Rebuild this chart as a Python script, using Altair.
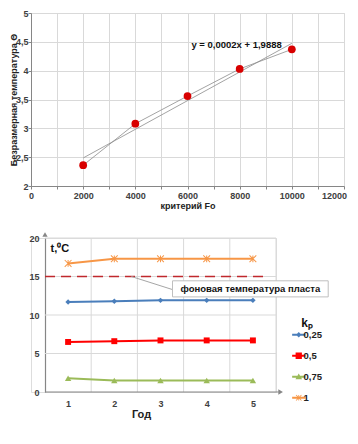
import altair as alt
import pandas as pd

# ---------------- top chart data ----------------
fo_values = [2000, 4000, 6000, 8000, 10000]
theta_values = [2.36, 3.08, 3.56, 4.03, 4.37]
fo_ticks = list(range(0, 12001, 1000))
theta_ticks = [2, 2.5, 3, 3.5, 4, 4.5, 5]
equation = "y = 0,0002x + 1,9888"
equation_pos = [6150, 4.45]

# ---------------- bottom chart data ----------------
years = [1, 2, 3, 4, 5]
kp_names = ["0,25", "0,5", "0,75", "1"]
t_kp025 = [11.7, 11.8, 11.9, 11.9, 11.9]
t_kp05 = [6.5, 6.6, 6.7, 6.7, 6.7]
t_kp075 = [1.8, 1.5, 1.5, 1.5, 1.5]
t_kp1 = [16.7, 17.3, 17.3, 17.3, 17.3]
t_ticks = [0, 5, 10, 15, 20]
t_grid = [5, 10, 15, 20]
year_edges = [1.5, 2.5, 3.5, 4.5, 5.5]
background_temp = 15
background_end = 5.33
background_label = "фоновая  температура  пласта"
label_box = [3.26, 6.63, 14.44, 12.35]
leader = [2.37, 15.0, 3.26, 13.3]
unit_label = "t,\u2070C"
unit_pos = [0.62, 18.6]
series_colors = ["#4a7ebb", "#ff0000", "#9bbb59", "#f79646"]

ASTER = ("M-0.15,-1H0.15V1H-0.15Z"
         "M-0.9,-1.1L1.1,0.9L0.9,1.1L-1.1,-0.9Z"
         "M-1.1,0.9L0.9,-1.1L1.1,-0.9L-0.9,1.1Z")
series_shapes = ["diamond", "square", "triangle-up", ASTER]
series_sizes = [30, 46, 40, 44]
BAR = "M-2.2,-0.3H2.2V0.3H-2.2Z"
legend_paths = [
    BAR + "M0,-0.9L0.9,0L0,0.9L-0.9,0Z",
    BAR + "M-1.05,-1.05H1.05V1.05H-1.05Z",
    BAR + "M0,-1.1L1.1,0.85H-1.1Z",
    BAR + "M-0.13,-0.95H0.13V0.95H-0.13Z"
          "M-0.8,-1L1,0.8L0.8,1L-1,-0.8Z"
          "M-1,0.8L0.8,-1L1,-0.8L-0.8,1Z",
]

FONT = "Liberation Sans"
GRID = "#d9d9d9"
AXIS = "#868686"
LAB = "#404040"

# ================= top chart =================
top_df = pd.DataFrame({"fo": fo_values, "theta": theta_values})

x_top = alt.X(
    "fo:Q",
    scale=alt.Scale(domain=[0, 12000], nice=False, zero=True),
    axis=alt.Axis(
        values=fo_ticks, tickCount=len(fo_ticks) + 5, format="d",
        labelExpr="datum.value % 2000 === 0 ? datum.label : ''",
        labelOffset={"condition": {"test": "datum.value === 12000", "value": -10}, "value": 0},
        title="критерий Fo", titleFont=FONT, titleFontSize=9, titleFontWeight="bold",
        titleColor="#222222", titlePadding=1,
        labelFont=FONT, labelFontSize=9, labelFontWeight="bold", labelColor=LAB,
        labelPadding=2, tickSize=3, tickColor=AXIS, domainColor=AXIS,
        gridColor=GRID, labelFlush=False, labelOverlap=False,
    ),
)
y_top = alt.Y(
    "theta:Q",
    scale=alt.Scale(domain=[2, 5], nice=False, zero=False),
    axis=alt.Axis(
        values=theta_ticks, tickCount=len(theta_ticks) + 5, format="~g",
        labelExpr="replace(datum.label, '.', ',')",
        title="Безразмерная температура   Θ", titleFont=FONT, titleFontSize=9,
        titleFontWeight="bold", titleColor="#222222", titlePadding=-3,
        labelFont=FONT, labelFontSize=9, labelFontWeight="bold", labelColor=LAB,
        labelPadding=0, tickSize=3, tickColor=AXIS, domainColor=AXIS, gridColor=GRID,
        labelOverlap=False,
    ),
)

top_base = alt.Chart(top_df).encode(x=x_top, y=y_top)
connect = top_base.mark_line(color="#8c8c8c", strokeWidth=0.8)
trend = alt.Chart(top_df).transform_regression("fo", "theta").mark_line(
    color="#8c8c8c", strokeWidth=0.8
).encode(x=x_top, y=y_top)
pts = top_base.mark_circle(size=60, color="#d80000", opacity=1)
eq = alt.Chart(pd.DataFrame({"t": [equation]})).mark_text(
    align="left", baseline="middle", font=FONT, fontSize=9.5, fontWeight="bold", color="#111111"
).encode(x=alt.datum(equation_pos[0]), y=alt.datum(equation_pos[1]), text="t:N")

top = alt.layer(connect, trend, pts, eq).properties(width=313, height=173)

# ================= bottom chart =================
bot_df = pd.DataFrame({
    "year": years * 4,
    "t": t_kp025 + t_kp05 + t_kp075 + t_kp1,
    "kp": [n for n in kp_names for _ in years],
})

XSCALE = alt.Scale(domain=[0.5, 5.5], range=[14, 245], nice=False, zero=False)
YSCALE = alt.Scale(domain=[0, 20], nice=False)

x_bot = alt.X(
    "year:Q",
    scale=XSCALE,
    axis=alt.Axis(
        values=years, tickCount=10, format="d", grid=False, ticks=False, domain=False,
        title="Год", titleFont=FONT, titleFontSize=11, titleFontWeight="bold",
        titleColor="#222222", titlePadding=0, titleX=110,
        labelFont=FONT, labelFontSize=9, labelFontWeight="bold", labelColor=LAB,
        labelPadding=7, labelOverlap=False,
    ),
)
y_bot = alt.Y(
    "t:Q",
    scale=YSCALE,
    axis=alt.Axis(
        values=t_ticks, tickCount=10, title=None, grid=False, ticks=False, offset=-14,
        labelFont=FONT, labelFontSize=9, labelFontWeight="bold", labelColor=LAB,
        labelPadding=6, domainColor=AXIS, domainWidth=1.2, labelOverlap=False,
    ),
)

hgrid = alt.Chart(pd.DataFrame({"g": t_grid})).mark_rule(color=GRID, strokeWidth=1).encode(
    y=alt.Y("g:Q", scale=YSCALE), x=alt.datum(0.5), x2=alt.datum(5.5)
)
vgrid = alt.Chart(pd.DataFrame({"edge": year_edges})).mark_rule(
    color=GRID, strokeWidth=1
).encode(x=alt.X("edge:Q", scale=XSCALE))

x_axis_line = alt.Chart(pd.DataFrame({"a": [0]})).mark_rule(color=AXIS, strokeWidth=1.2).encode(
    y=alt.datum(0), x=alt.datum(0.5), x2=alt.datum(5.56)
)

bg_line = alt.Chart(pd.DataFrame({"x1": [0.5], "x2": [background_end], "y": [background_temp]})).mark_rule(
    color="#c0282d", strokeDash=[10, 6], strokeWidth=1.6
).encode(x="x1:Q", x2="x2:Q", y="y:Q")

leader_line = alt.Chart(pd.DataFrame({"x1": [leader[0]], "y1": [leader[1]], "x2": [leader[2]], "y2": [leader[3]]})).mark_rule(
    color="#a6a6a6", strokeWidth=1
).encode(x="x1:Q", y="y1:Q", x2="x2:Q", y2="y2:Q")

box = alt.Chart(pd.DataFrame({"x1": [label_box[0]], "x2": [label_box[1]], "y1": [label_box[2]], "y2": [label_box[3]]})).mark_rect(
    fill="white", stroke="#bfbfbf", strokeWidth=1
).encode(x="x1:Q", x2="x2:Q", y="y1:Q", y2="y2:Q")

box_text = alt.Chart(pd.DataFrame({"t": [background_label]})).mark_text(
    font=FONT, fontSize=9.5, fontWeight="bold", color="#111111", align="center", baseline="middle"
).encode(
    x=alt.datum((label_box[0] + label_box[1]) / 2),
    y=alt.datum((label_box[2] + label_box[3]) / 2),
    text="t:N",
)

unit_text = alt.Chart(pd.DataFrame({"t": [unit_label]})).mark_text(
    font=FONT, fontSize=11, fontWeight="bold", color="#111111", align="left", baseline="middle"
).encode(x=alt.datum(unit_pos[0]), y=alt.datum(unit_pos[1]), text="t:N")

arrow_x = alt.Chart(pd.DataFrame({"a": [0]})).mark_point(
    shape="triangle-right", filled=True, size=28, color=AXIS, opacity=1
).encode(x=alt.datum(5.6), y=alt.datum(0))
arrow_y = alt.Chart(pd.DataFrame({"a": [0]})).mark_point(
    shape="triangle-up", filled=True, size=28, color=AXIS, opacity=1
).encode(x=alt.datum(0.5), y=alt.datum(20.45))

color_scale = alt.Scale(domain=kp_names, range=series_colors)

lines = alt.Chart(bot_df).mark_line(strokeWidth=2).encode(
    x=x_bot, y=y_bot, color=alt.Color("kp:N", scale=color_scale, legend=None)
)

markers = alt.Chart(bot_df).mark_point(filled=True, opacity=1, strokeWidth=0).encode(
    x=x_bot,
    y=y_bot,
    color=alt.Color("kp:N", scale=color_scale, legend=None),
    shape=alt.Shape("kp:N", scale=alt.Scale(domain=kp_names, range=series_shapes), legend=None),
    size=alt.Size("kp:N", scale=alt.Scale(domain=kp_names, range=series_sizes), legend=None),
)

LEG = alt.Legend(
    title="k\u209a", orient="none", legendX=261, legendY=80,
    titleFont=FONT, titleFontSize=12, titleFontWeight="bold", titleColor="#111111",
    titleAnchor="middle", titlePadding=0,
    labelFont=FONT, labelFontSize=9.5, labelFontWeight="bold", labelColor="#222222",
    labelOffset=0, symbolOffset=2, rowPadding=10, symbolSize=36, symbolOpacity=1,
    symbolStrokeWidth=0,
)

legend_layer = alt.Chart(bot_df).transform_filter("false").mark_point(
    filled=True, opacity=1, strokeWidth=0
).encode(
    x=x_bot,
    y=y_bot,
    color=alt.Color("kp:N", scale=color_scale, legend=LEG),
    shape=alt.Shape("kp:N", scale=alt.Scale(domain=kp_names, range=legend_paths), legend=LEG),
)

bottom = alt.layer(
    vgrid, hgrid, x_axis_line, bg_line, leader_line, box, box_text, unit_text,
    lines, markers, legend_layer, arrow_x, arrow_y
).resolve_scale(color="independent", shape="independent").properties(width=245, height=154)

chart = alt.vconcat(top, bottom, spacing=20).properties(
    padding={"left": 0, "top": 0, "right": 0, "bottom": 0}
).configure_view(stroke=None).configure(font=FONT)

chart.save("out.html", embed_options={"renderer": "svg", "actions": False})
